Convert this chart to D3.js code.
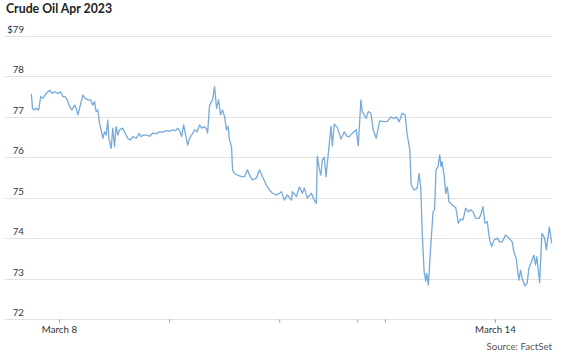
<!DOCTYPE html>
<html>
<head>
<meta charset="utf-8">
<script src="https://cdn.jsdelivr.net/npm/d3@7"></script>
<style>
  body { margin: 0; background: #fff; }
  svg { display: block; font-family: Lato, "Open Sans", sans-serif; }
</style>
</head>
<body>
<svg id="chart" width="563" height="362"></svg>
<script>
// trading hours elapsed since the open (March 7, 6pm ET), weekend removed
const hours = [0.0, 0.24, 0.57, 1.07, 1.59, 2.02, 2.52, 3.24, 3.98, 4.48, 5.07, 5.78, 6.37, 6.87, 7.37, 7.80, 8.33, 8.83, 9.41, 9.76,
  10.13, 10.50, 11.22, 11.72, 12.30, 12.89, 13.39, 13.76, 14.11, 14.48, 14.85, 15.20, 15.57, 15.93, 16.28, 16.65, 16.87, 17.37, 17.74, 18.11,
  18.46, 18.83, 19.20, 19.91, 20.28, 21.00, 21.59, 22.09, 22.80, 23.54, 23.89, 24.48, 25.13, 25.78, 26.43, 27.09, 27.96, 28.61, 29.48, 30.13,
  30.78, 31.43, 31.87, 32.30, 32.74, 33.17, 33.61, 34.04, 34.48, 34.91, 35.57, 36.11, 36.65, 37.09, 37.74, 38.17, 38.39, 38.83, 39.48, 39.91,
  40.35, 40.78, 41.22, 41.65, 42.09, 42.52, 42.85, 43.17, 43.61, 43.83, 44.26, 44.91, 45.78, 46.43, 47.09, 47.52, 48.17, 49.04, 49.70, 50.35,
  51.22, 51.87, 52.52, 53.39, 53.93, 54.48, 55.13, 55.78, 56.65, 56.87, 57.74, 58.39, 59.04, 59.48, 60.13, 61.00, 61.65, 62.09, 62.30, 62.74,
  63.07, 63.39, 63.83, 64.20, 64.70, 65.28, 65.57, 66.00, 66.65, 67.46, 68.17, 68.83, 69.26, 69.91, 70.78, 71.22, 71.80, 72.09, 72.52, 72.96,
  73.39, 73.98, 74.48, 75.13, 75.89, 76.87, 77.52, 78.33, 79.04, 79.48, 80.13, 80.78, 81.43, 81.87, 82.46, 82.74, 83.39, 84.04, 84.48, 84.85,
  85.13, 85.57, 85.93, 86.15, 86.50, 87.02, 87.52, 87.85, 88.17, 88.61, 88.98, 89.26, 89.48, 89.91, 90.28, 90.63, 91.00, 91.72, 92.46, 93.02,
  93.54, 94.04, 94.63, 95.20, 95.72, 96.22, 96.80, 97.52, 97.89, 98.39, 98.83, 99.33, 99.85, 100.28, 100.78, 101.50, 102.02, 102.59, 103.33, 104.04,
  104.76, 105.13, 105.63, 106.22, 106.59, 106.93, 107.52, 108.02, 108.39, 108.98, 109.48, 109.85, 110.13, 110.74, 111.24, 111.83, 112.20, 112.85, 113.37];

const prices = [77.57, 77.21, 77.17, 77.21, 77.17, 77.50, 77.46, 77.58, 77.66, 77.58, 77.62, 77.58, 77.62, 77.50, 77.50, 77.42, 77.25, 77.17, 77.29, 77.21,
  77.05, 77.21, 77.54, 77.46, 77.42, 77.42, 77.29, 77.38, 77.13, 77.17, 76.84, 76.68, 76.47, 76.63, 76.55, 76.92, 76.47, 76.22, 76.72, 76.26,
  76.76, 76.55, 76.68, 76.72, 76.63, 76.47, 76.43, 76.51, 76.47, 76.59, 76.51, 76.55, 76.55, 76.52, 76.60, 76.58, 76.63, 76.62, 76.66, 76.64,
  76.68, 76.66, 76.72, 76.66, 76.51, 76.80, 76.55, 76.30, 76.47, 76.55, 76.68, 76.63, 76.80, 76.72, 76.76, 76.70, 76.60, 77.29, 77.42, 77.75,
  77.21, 77.42, 77.05, 77.17, 77.00, 76.68, 76.76, 76.43, 76.26, 75.69, 75.60, 75.56, 75.52, 75.52, 75.69, 75.56, 75.44, 75.49, 75.69, 75.52,
  75.31, 75.19, 75.11, 75.07, 75.10, 75.15, 74.94, 75.07, 74.94, 75.15, 75.03, 75.27, 75.11, 75.24, 74.99, 75.11, 74.94, 74.86, 76.03, 75.70,
  75.56, 75.93, 76.00, 75.52, 76.10, 76.77, 76.28, 76.82, 76.74, 76.45, 76.63, 76.51, 76.51, 76.59, 76.68, 76.28, 77.42, 77.13, 77.05, 76.96,
  77.13, 77.09, 76.68, 76.47, 76.90, 76.88, 76.88, 77.00, 76.96, 77.00, 76.88, 77.09, 77.05, 76.57, 76.18, 75.32, 75.19, 75.23, 75.60, 75.23,
  74.20, 73.17, 72.94, 73.13, 72.84, 73.81, 74.65, 74.70, 75.69, 75.77, 76.06, 75.77, 75.89, 75.56, 75.10, 75.27, 74.90, 74.82, 74.76, 74.37,
  74.47, 74.45, 74.74, 74.65, 74.70, 74.65, 74.49, 74.49, 74.57, 74.78, 74.37, 74.41, 73.95, 73.79, 73.95, 74.00, 73.91, 73.91, 74.08, 74.00,
  73.91, 73.66, 73.50, 72.96, 73.21, 73.00, 72.82, 72.88, 73.25, 73.42, 73.58, 73.34, 73.54, 72.90, 74.12, 74.00, 73.71, 74.28, 73.87];

// day boundaries on the trading clock (Sat/Sun collapse into one tick)
const dayTicks = [6, 30, 54, 71, 77, 101];
const dayLabels = ["March 8", "", "", "", "", "March 14"];

const yTicks = [72, 73, 74, 75, 76, 77, 78, 79];

const title = "Crude Oil Apr 2023";
const source = "Source: FactSet";

const svg = d3.select("#chart");
const gridLeft = 5, gridRight = 552;

const x = d3.scaleLinear().domain([0, 113.37]).range([31.4, 551.7]);
const y = d3.scaleLinear().domain([72, 79]).range([319, 36]);

svg.append("text")
  .attr("x", 6).attr("y", 13)
  .attr("font-size", 12.3).attr("font-weight", 700).attr("fill", "#222")
  .text(title);

// horizontal gridlines
svg.append("g").selectAll("line")
  .data(yTicks)
  .join("line")
  .attr("x1", gridLeft).attr("x2", gridRight)
  .attr("y1", d => Math.round(y(d)) + 0.5).attr("y2", d => Math.round(y(d)) + 0.5)
  .attr("stroke", "#e2e2e2").attr("stroke-width", 1);

svg.append("g").selectAll("text")
  .data(yTicks)
  .join("text")
  .attr("x", 24).attr("y", d => y(d) - 3)
  .attr("text-anchor", "end")
  .attr("font-size", 9.7).attr("fill", "#333")
  .text(d => d === 79 ? "$" + d : d);

// x axis: ticks only, baseline is the 72 gridline
const xAxis = d3.axisBottom(x)
  .tickValues(dayTicks)
  .tickSize(3)
  .tickPadding(4)
  .tickFormat((d, i) => dayLabels[i]);

const gx = svg.append("g")
  .attr("transform", `translate(0,${Math.round(y(72)) + 0.5})`)
  .call(xAxis);
gx.select(".domain").remove();
gx.selectAll(".tick line").attr("stroke", "#999");
gx.selectAll(".tick text")
  .attr("font-family", "Lato, sans-serif")
  .attr("font-size", 9.7).attr("fill", "#333");

const line = d3.line()
  .x((d, i) => x(hours[i]))
  .y(d => y(d));

svg.append("path")
  .datum(prices)
  .attr("fill", "none")
  .attr("stroke", "#75aadb")
  .attr("stroke-width", 1.3)
  .attr("stroke-linejoin", "round")
  .attr("d", line);

svg.append("text")
  .attr("x", gridRight).attr("y", 350)
  .attr("text-anchor", "end")
  .attr("font-size", 9.7).attr("fill", "#555")
  .text(source);
</script>
</body>
</html>
